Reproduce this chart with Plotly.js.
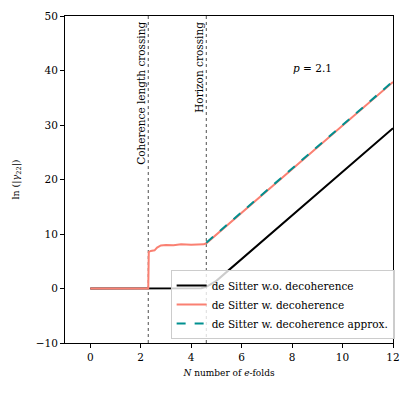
<!DOCTYPE html>
<html>
<head>
<meta charset="utf-8">
<script src="https://cdn.plot.ly/plotly-3.0.1.min.js"></script>
<style>html,body{margin:0;padding:0;background:#fff;}#chart{width:412px;height:395px;}</style>
</head>
<body>
<div id="chart"></div>
<script>
// Data
const noDecoN = [0, 2.3, 4.4, 4.6, 4.8, 5.0, 12];
const noDecoY = [0, 0, 0.05, 0.3, 0.8, 1.4, 29.4];

const decoN = [0, 2.25, 2.3, 2.32, 2.4, 2.55, 2.65, 2.8, 3.0, 3.3, 3.6, 4.0, 4.3, 4.5, 4.6, 12];
const decoY = [0, 0, 0, 6.7, 6.9, 7.0, 7.5, 7.9, 8.0, 7.95, 8.1, 8.05, 8.0, 8.1, 8.3, 37.9];

const approxN = [4.6, 12];
const approxY = [8.4, 38.0];

const crossings = [2.3, 4.6];
const crossingLabels = ["Coherence length crossing", "Horizon crossing"];

const seriesNames = ["de Sitter w.o. decoherence", "de Sitter w. decoherence", "de Sitter w. decoherence approx."];

const xTicks = [0, 2, 4, 6, 8, 10, 12];
const yTicks = [-10, 0, 10, 20, 30, 40, 50];

const serif = "DejaVu Serif, Liberation Serif, serif";

const traces = [
  {x: noDecoN, y: noDecoY, mode: "lines", name: seriesNames[0], line: {color: "#000000", width: 2}},
  {x: decoN, y: decoY, mode: "lines", name: seriesNames[1], line: {color: "#FA8072", width: 2}},
  {x: approxN, y: approxY, mode: "lines", name: seriesNames[2], line: {color: "#009090", width: 2, dash: "dash"}}
];

const shapes = crossings.map(c => ({
  type: "line", xref: "x", yref: "paper", x0: c, x1: c, y0: 0, y1: 1,
  line: {color: "#000", width: 0.7, dash: "dot"}, layer: "below"
}));

const annotations = crossings.map((c, i) => ({
  x: c, xref: "x", y: 1, yref: "paper", text: crossingLabels[i],
  textangle: -90, xanchor: "right", yanchor: "top", xshift: 0, yshift: -4,
  showarrow: false, font: {family: serif, size: 10.5, color: "#000"}
}));
annotations.push({
  x: 8.8, y: 40.5, xref: "x", yref: "y", text: "<i>p</i> = 2.1", showarrow: false,
  font: {family: serif, size: 10.5, color: "#000"}
});

const layout = {
  width: 412, height: 395,
  margin: {l: 65, r: 19, t: 16, b: 52},
  paper_bgcolor: "#fff", plot_bgcolor: "#fff",
  showlegend: true,
  legend: {
    x: 1.005, xanchor: "right", y: 0.012, yanchor: "bottom",
    bgcolor: "rgba(255,255,255,0.8)", bordercolor: "#cccccc", borderwidth: 1,
    font: {family: serif, size: 10.5, color: "#000"}, tracegroupgap: 0, itemwidth: 30
  },
  xaxis: {
    range: [-1, 12], tickvals: xTicks, ticktext: xTicks.map(String),
    showgrid: false, zeroline: false, showline: true, mirror: true,
    linecolor: "#000", linewidth: 1, ticks: "outside", ticklen: 4, tickcolor: "#000",
    tickfont: {family: serif, size: 10.5, color: "#000"},
    title: {text: "<i>N</i> number of <i>e</i>-folds", font: {family: serif, size: 9, color: "#000"}, standoff: 8}
  },
  yaxis: {
    range: [-10, 50], tickvals: yTicks, ticktext: yTicks.map(v => v < 0 ? "\u2212" + Math.abs(v) : String(v)),
    showgrid: false, zeroline: false, showline: true, mirror: true,
    linecolor: "#000", linewidth: 1, ticks: "outside", ticklen: 4, tickcolor: "#000",
    tickfont: {family: serif, size: 10.5, color: "#000"},
    title: {text: "ln (|<i>γ</i><sub>22</sub>|)", font: {family: serif, size: 9.5, color: "#000"}, standoff: 14}
  },
  shapes: shapes,
  annotations: annotations
};

Plotly.newPlot("chart", traces, layout, {displayModeBar: false, staticPlot: true});
</script>
</body>
</html>
